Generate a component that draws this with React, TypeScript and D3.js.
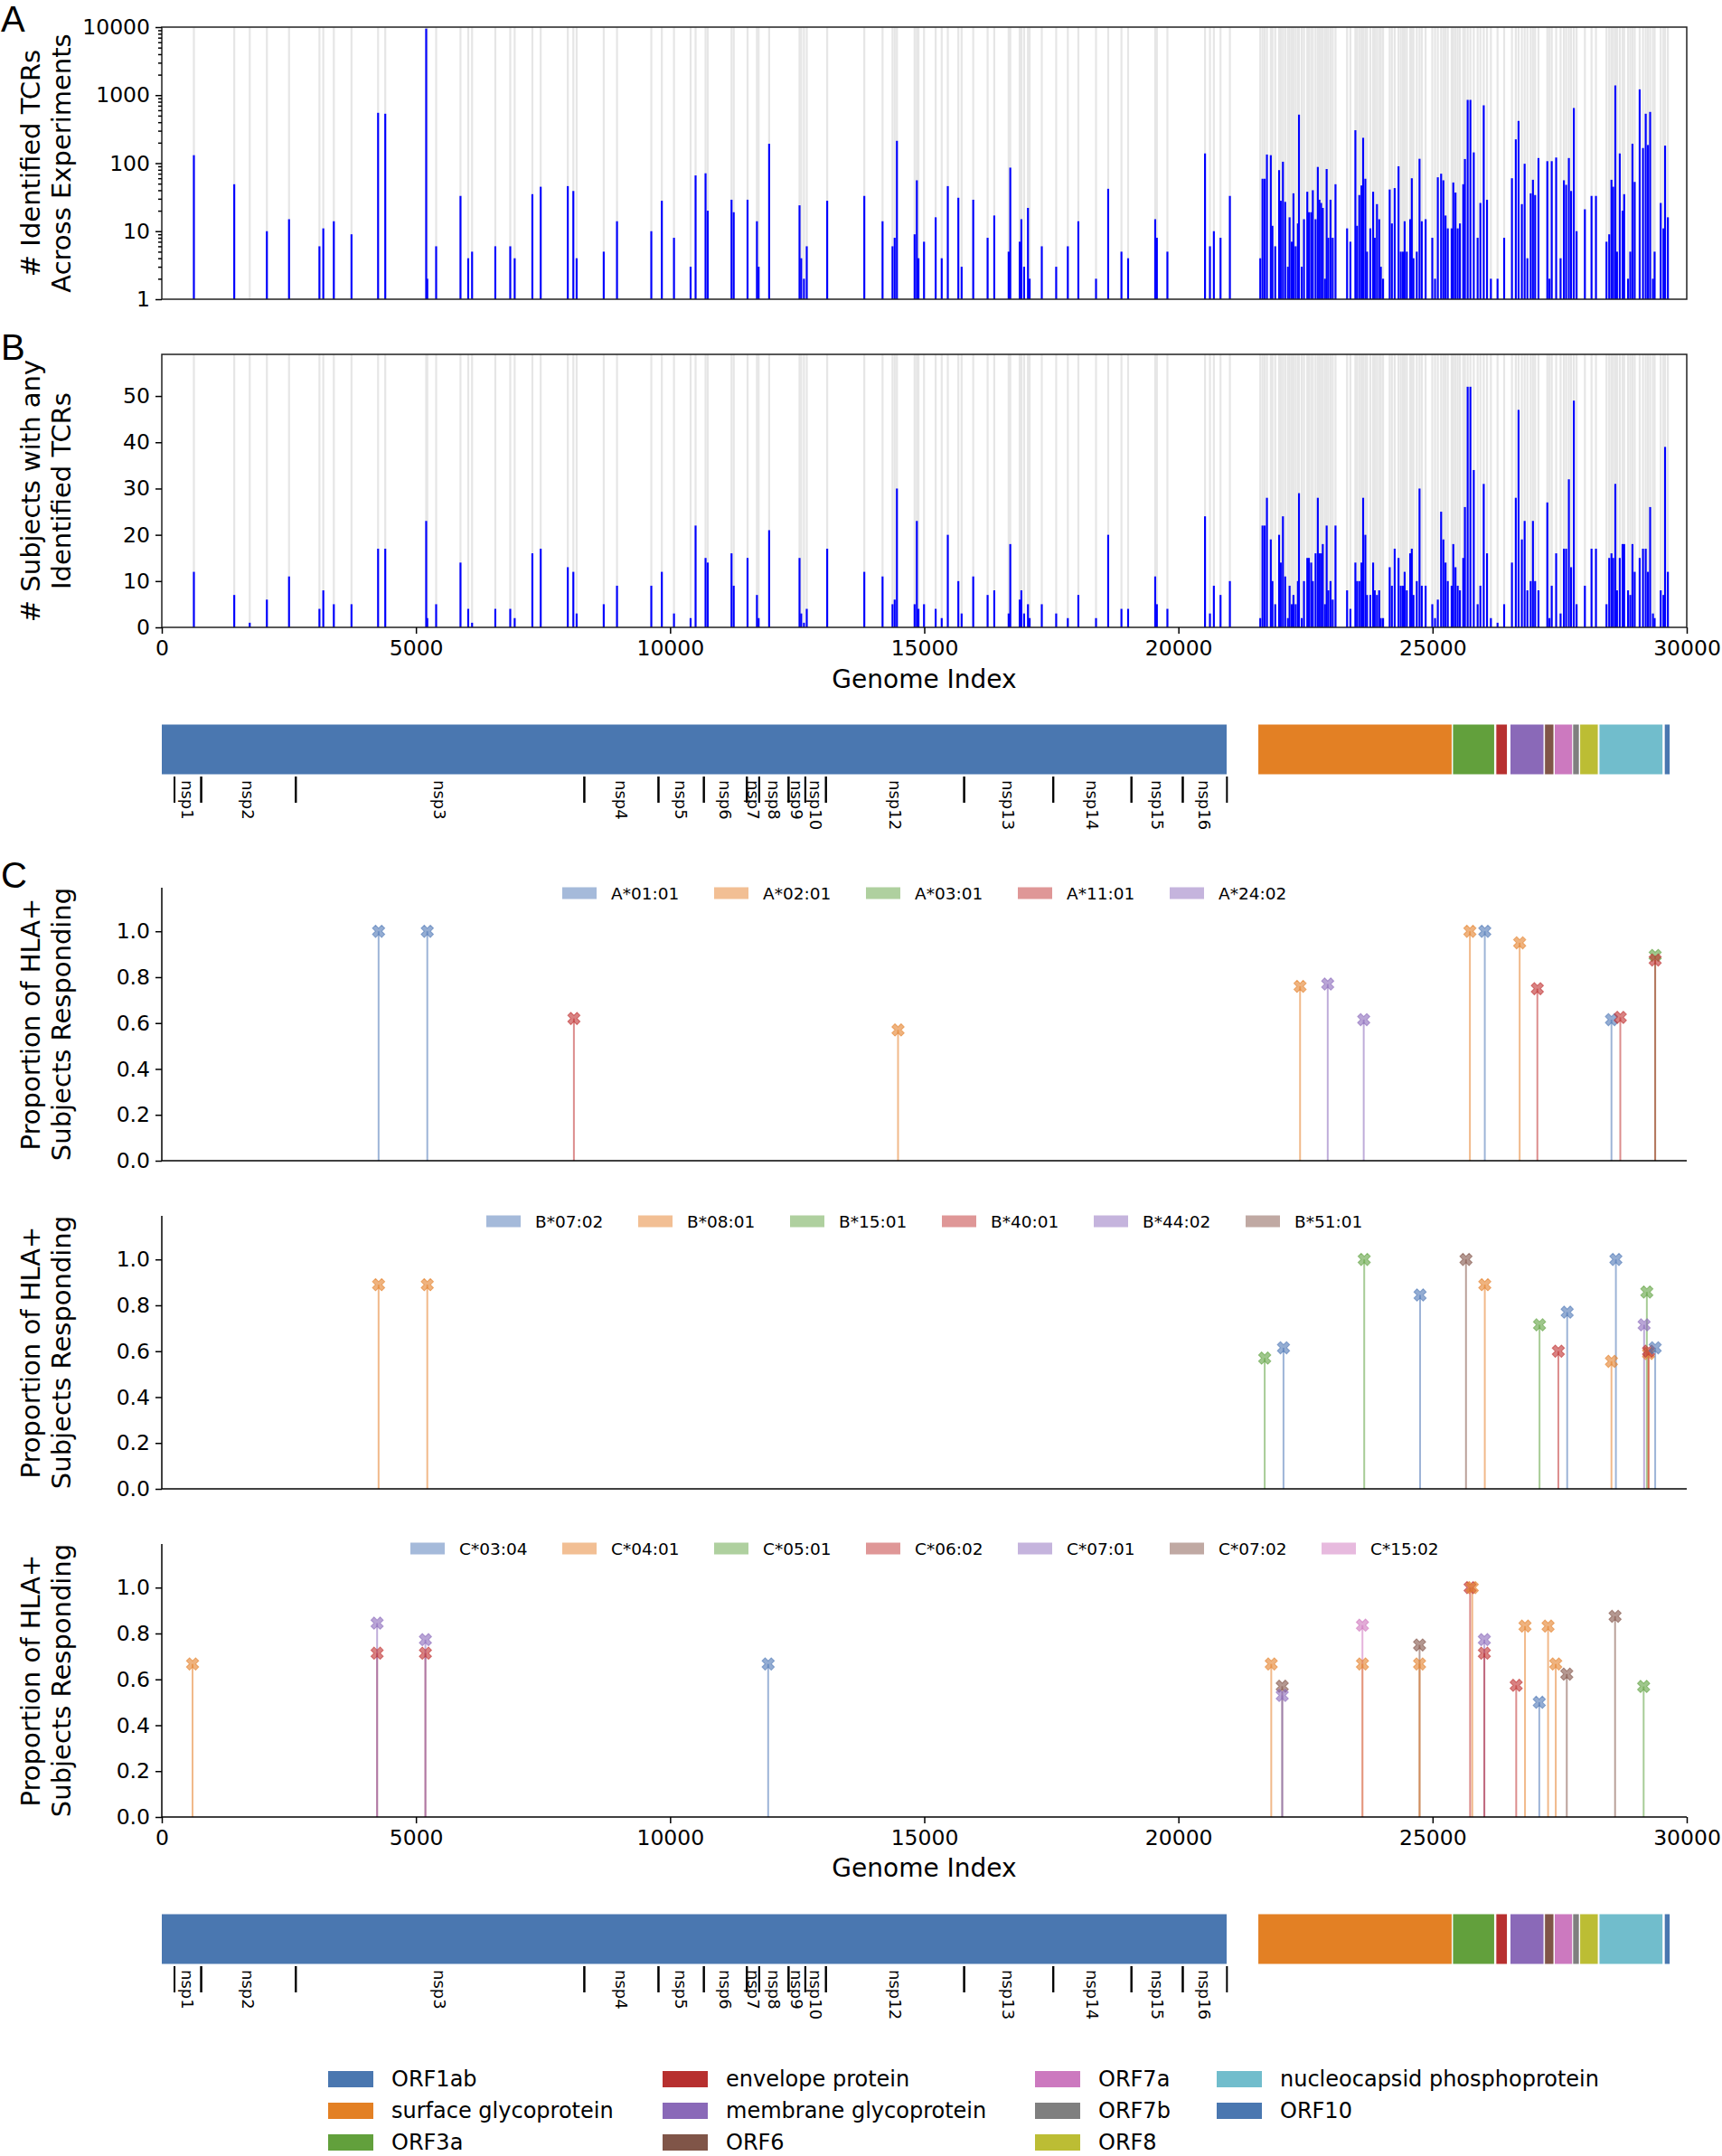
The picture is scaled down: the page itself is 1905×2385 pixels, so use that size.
import { useEffect, useRef } from 'react';
import * as d3 from 'd3';

// epitope start positions (genome index) with TCR counts (A) and subject counts (B)
const positions = [
  631, 1425, 1730, 2067, 2503, 3101, 3177, 3384, 3732, 4255, 4396, 5201, 5223, 5397, 5876, 6028, 6104, 6561, 6855, 6942,
  7290, 7454, 7987, 8096, 8161, 8694, 8955, 9630, 9837, 10076, 10403, 10501, 10697, 10740, 11208, 11251, 11523, 11708, 11741, 11948,
  12546, 12579, 12633, 12688, 13090, 13820, 14179, 14375, 14418, 14462, 14810, 14854, 14886, 14995, 15224, 15343, 15463, 15670, 15735, 15963,
  16246, 16377, 16660, 16692, 16877, 16910, 16964, 17040, 17073, 17312, 17595, 17824, 18031, 18379, 18618, 18879, 19010, 19543, 19576, 19783,
  20523, 20620, 20697, 20828, 21012,
  21610, 21654, 21697, 21741, 21817, 21849, 21904, 21980, 22013, 22056, 22100, 22154, 22187, 22230, 22263, 22307, 22350, 22372, 22426, 22470,
  22535, 22567, 22611, 22644, 22698, 22742, 22774, 22807, 22840, 22883, 22916, 22948, 22992, 23035, 23090,
  23318, 23383, 23481, 23514, 23558, 23601, 23634, 23677, 23710, 23775, 23830, 23862, 23906, 23949, 23982, 24026, 24156, 24199, 24254, 24330,
  24374, 24417, 24450, 24493, 24559, 24591, 24624, 24689, 24743, 24787, 24863, 24994, 25048, 25103, 25168, 25212, 25255, 25299, 25375, 25407,
  25451, 25494, 25538, 25603, 25636, 25690, 25744, 25810, 25886, 25940, 26006, 26071, 26147, 26278,
  26408, 26561, 26637, 26691, 26756, 26811, 26865, 26930, 26974, 27017, 27083, 27257, 27300, 27344, 27431, 27518, 27583, 27627, 27681, 27725,
  27779, 27833,
  27996, 28127, 28214, 28421, 28475, 28519, 28552, 28595, 28628, 28682, 28737, 28769, 28845, 28889, 28932, 28976, 29074, 29139, 29193, 29237,
  29280, 29335, 29368, 29488, 29542, 29574, 29629,
];

const tcrCounts = [
  131, 49, 1, 10, 15, 6, 11, 14, 9, 550, 533, 9500, 2, 6, 33, 4, 5, 6, 6, 4,
  35, 45, 46, 39, 4, 5, 14, 10, 28, 8, 3, 66, 71, 20, 29, 19, 29, 14, 3, 193,
  24, 4, 2, 6, 28, 33, 14, 6, 8, 213, 9, 56, 4, 7, 16, 4, 46, 31, 3, 29,
  8, 17, 5, 86, 7, 15, 3, 22, 2, 6, 3, 6, 14, 2, 42, 5, 4, 15, 8, 5,
  139, 6, 10, 8, 33,
  4, 59, 59, 134, 131, 12, 6, 79, 28, 105, 27, 3, 16, 7, 36, 6, 13, 517, 3, 15,
  38, 19, 19, 40, 15, 88, 29, 26, 22, 2, 82, 8, 29, 8, 49,
  11, 7, 305, 12, 34, 47, 236, 59, 5, 11, 38, 8, 25, 15, 3, 2, 41, 13, 43, 90,
  5, 5, 14, 5, 15, 60, 4, 5, 116, 14, 15, 8, 2, 62, 70, 56, 17, 11, 11, 52,
  37, 11, 13, 49, 115, 852, 852, 144, 8, 26, 709, 29, 2, 2,
  8, 60, 224, 418, 25, 98, 4, 36, 57, 34, 119, 107, 2, 107, 121, 4, 56, 48, 119, 39,
  647, 10,
  21, 33, 33, 7, 9, 57, 45, 1388, 5, 139, 20, 35, 2, 5, 193, 53, 1216, 167, 533, 185,
  567, 2, 5, 26, 11, 181, 16,
];

const subjectCounts = [
  12, 7, 1, 6, 11, 4, 8, 5, 5, 17, 17, 23, 2, 5, 14, 4, 1, 4, 4, 2,
  16, 17, 13, 12, 3, 5, 9, 9, 12, 3, 2, 22, 15, 14, 16, 9, 15, 7, 2, 21,
  15, 3, 1, 4, 17, 12, 11, 5, 6, 30, 5, 23, 4, 5, 4, 2, 20, 10, 3, 11,
  7, 8, 3, 18, 6, 8, 3, 5, 2, 5, 3, 2, 7, 2, 20, 4, 4, 11, 5, 4,
  24, 3, 9, 7, 10,
  2, 22, 22, 28, 19, 10, 5, 20, 14, 24, 11, 2, 9, 5, 7, 5, 10, 29, 2, 10,
  15, 15, 14, 10, 16, 28, 16, 16, 18, 5, 22, 8, 10, 6, 22,
  8, 4, 14, 10, 10, 14, 28, 20, 7, 7, 14, 8, 7, 8, 2, 2, 13, 9, 17, 15,
  9, 9, 12, 8, 16, 17, 7, 10, 30, 9, 9, 5, 2, 6, 25, 19, 14, 10, 9, 18,
  13, 9, 8, 15, 26, 52, 52, 34, 5, 9, 31, 16, 2, 1,
  5, 14, 28, 47, 19, 23, 8, 10, 23, 10, 8, 27, 2, 9, 16, 3, 17, 17, 32, 13,
  49, 5,
  9, 17, 17, 5, 15, 16, 15, 31, 8, 15, 18, 18, 8, 7, 18, 12, 15, 17, 17, 12,
  26, 3, 2, 8, 7, 39, 12,
];

// genes of the SARS-CoV-2 genome
const geneNames = ['ORF1ab', 'surface glycoprotein', 'ORF3a', 'envelope protein', 'membrane glycoprotein', 'ORF6',
  'ORF7a', 'ORF7b', 'ORF8', 'nucleocapsid phosphoprotein', 'ORF10'];
const geneStarts = [0, 21563, 25393, 26245, 26523, 27202, 27394, 27756, 27894, 28274, 29558];
const geneEnds = [21555, 25384, 26220, 26472, 27191, 27387, 27759, 27887, 28259, 29533, 29674];
const geneColors = ['#4a77b0', '#e38024', '#62a03c', '#b7302f', '#8a69b8', '#805548',
  '#cc79bf', '#7f7f7f', '#bcbd34', '#71bdcc', '#4a77b0'];

const nspNames = ['nsp1', 'nsp2', 'nsp3', 'nsp4', 'nsp5', 'nsp6', 'nsp7', 'nsp8', 'nsp9', 'nsp10',
  'nsp12', 'nsp13', 'nsp14', 'nsp15', 'nsp16'];
const nspStarts = [266, 806, 2720, 8555, 10055, 10973, 11843, 12092, 12686, 13025, 13442, 16237, 18040, 19621, 20659];
const nspEnds = [805, 2719, 8554, 10054, 10972, 11842, 12091, 12685, 13024, 13441, 16236, 18039, 19620, 20658, 21552];

// HLA panels
const hlaPalette = ['#4c76b6', '#e5802a', '#5fa23f', '#c02f2f', '#8b69bb', '#825447', '#cf75bd'];

const hlaAAlleles = ['A*01:01', 'A*02:01', 'A*03:01', 'A*11:01', 'A*24:02'];
const hlaAPos = [4265, 5223, 8107, 14484, 22393, 22937, 23645, 25734, 26027, 26713, 27061, 28519, 28693, 29379, 29379];
const hlaAIdx = [0, 0, 3, 1, 1, 4, 4, 1, 0, 1, 3, 0, 3, 2, 3];
const hlaAVal = [1.0, 1.0, 0.62, 0.57, 0.76, 0.77, 0.615, 1.0, 1.0, 0.95, 0.75, 0.615, 0.625, 0.895, 0.875];

const hlaBAlleles = ['B*07:02', 'B*08:01', 'B*15:01', 'B*40:01', 'B*44:02', 'B*51:01'];
const hlaBPos = [4265, 5223, 21697, 22067, 23655, 24754, 25657, 26027, 27104, 27474, 27648, 28519, 28606, 29215, 29161, 29248, 29248, 29379];
const hlaBIdx = [1, 1, 2, 0, 2, 0, 5, 1, 2, 3, 0, 1, 0, 2, 4, 1, 3, 0];
const hlaBVal = [0.89, 0.89, 0.57, 0.615, 1.0, 0.845, 1.0, 0.89, 0.715, 0.6, 0.77, 0.556, 1.0, 0.858, 0.715, 0.59, 0.6, 0.615];

const hlaCAlleles = ['C*03:04', 'C*04:01', 'C*05:01', 'C*06:02', 'C*07:01', 'C*07:02', 'C*15:02'];
const hlaCPos = [605, 4236, 4236, 5186, 5186, 11929, 21826, 22042, 22042, 23620, 23620, 24744, 24744, 25738, 25781,
  26018, 26018, 26645, 26818, 27099, 27272, 27423, 27640, 28590, 29152];
const hlaCIdx = [1, 3, 4, 3, 4, 0, 1, 5, 4, 6, 1, 5, 1, 3, 1, 4, 3, 3, 1, 0, 1, 1, 5, 5, 2];
const hlaCVal = [0.667, 0.714, 0.845, 0.714, 0.773, 0.667, 0.667, 0.57, 0.53, 0.836, 0.667, 0.75, 0.667, 1.0, 1.0,
  0.773, 0.714, 0.574, 0.832, 0.5, 0.832, 0.667, 0.623, 0.875, 0.569];

const FONT = 'DejaVu Sans';

export default function App() {
  const svgRef = useRef<SVGSVGElement>(null);

  useEffect(() => {
    if (!svgRef.current) return;
    const svg = d3.select(svgRef.current);
    svg.selectAll('*').remove();

    const x = d3.scaleLinear().domain([0, 30000]).range([179, 1866]);
    // ORF1ab is drawn on a slightly compressed scale in the gene track
    const xOrf = d3.scaleLinear().domain([0, 21555]).range([178.5, 1357.5]);
    const barW = x(38) - x(0);

    const styleAxis = (g: d3.Selection<SVGGElement, unknown, null, undefined>) => {
      g.select('.domain').remove();
      g.selectAll('.tick line').attr('stroke', '#000').attr('stroke-width', 1.5);
      g.selectAll('.tick text')
        .style('font-family', FONT)
        .style('font-size', '23.5px')
        .attr('fill', '#000');
    };

    const yLabel = (lines: string[], cy: number) => {
      const t = svg.append('text')
        .attr('transform', `translate(0,${cy}) rotate(-90)`)
        .attr('text-anchor', 'middle')
        .style('font-family', FONT)
        .style('font-size', '29px');
      lines.forEach((l, i) => {
        t.append('tspan').attr('x', 0).attr('y', i === 0 ? 44 : 78).text(l);
      });
    };

    const panelLetter = (s: string, y: number) => {
      svg.append('text').attr('x', 1).attr('y', y)
        .style('font-family', 'Liberation Sans')
        .style('font-size', '40px')
        .text(s);
    };

    const data = positions.map((p, i) => ({ p, tcr: tcrCounts[i], subj: subjectCounts[i] }));

    // ---------- Panel A ----------
    const yA = d3.scaleLog().domain([1, 10000]).range([331, 30]);
    const gA = svg.append('g');
    gA.selectAll('line.pep').data(data).join('line')
      .attr('x1', d => x(d.p)).attr('x2', d => x(d.p))
      .attr('y1', yA(1)).attr('y2', yA(10000))
      .attr('stroke', '#e6e6e6').attr('stroke-width', 2.2);
    gA.selectAll('rect.bar').data(data.filter(d => d.tcr > 1)).join('rect')
      .attr('x', d => x(d.p) - barW / 2)
      .attr('width', barW)
      .attr('y', d => yA(d.tcr))
      .attr('height', d => yA(1) - yA(d.tcr))
      .attr('fill', '#0000ff');
    gA.append('rect').attr('x', x(0)).attr('y', yA(10000))
      .attr('width', x(30000) - x(0)).attr('height', yA(1) - yA(10000))
      .attr('fill', 'none').attr('stroke', '#222').attr('stroke-width', 1.5);
    const minor: number[] = [];
    [1, 10, 100, 1000].forEach(b => d3.range(2, 10).forEach(k => minor.push(b * k)));
    gA.append('g').attr('transform', `translate(${x(0)},0)`)
      .call(d3.axisLeft(yA).tickValues(minor).tickFormat(() => '').tickSize(4))
      .call(styleAxis);
    gA.append('g').attr('transform', `translate(${x(0)},0)`)
      .call(d3.axisLeft(yA).tickValues([1, 10, 100, 1000, 10000]).tickFormat(d => String(d)).tickSize(7).tickPadding(6))
      .call(styleAxis);
    yLabel(['# Identified TCRs', 'Across Experiments'], (yA(1) + yA(10000)) / 2);
    panelLetter('A', 35);

    // ---------- Panel B ----------
    const yB = d3.scaleLinear().domain([0, 59]).range([694, 392]);
    const gB = svg.append('g');
    gB.selectAll('line.pep').data(data).join('line')
      .attr('x1', d => x(d.p)).attr('x2', d => x(d.p))
      .attr('y1', yB(0)).attr('y2', yB(59))
      .attr('stroke', '#e6e6e6').attr('stroke-width', 2.2);
    gB.selectAll('rect.bar').data(data).join('rect')
      .attr('x', d => x(d.p) - barW / 2)
      .attr('width', barW)
      .attr('y', d => yB(d.subj))
      .attr('height', d => yB(0) - yB(d.subj))
      .attr('fill', '#0000ff');
    gB.append('rect').attr('x', x(0)).attr('y', yB(59))
      .attr('width', x(30000) - x(0)).attr('height', yB(0) - yB(59))
      .attr('fill', 'none').attr('stroke', '#222').attr('stroke-width', 1.5);
    gB.append('g').attr('transform', `translate(${x(0)},0)`)
      .call(d3.axisLeft(yB).tickValues([0, 10, 20, 30, 40, 50]).tickSize(7).tickPadding(6))
      .call(styleAxis);
    gB.append('g').attr('transform', `translate(0,${yB(0)})`)
      .call(d3.axisBottom(x).tickValues(d3.range(0, 30001, 5000)).tickFormat(d3.format('d')).tickSize(7).tickPadding(7))
      .call(styleAxis);
    svg.append('text').attr('x', (x(0) + x(30000)) / 2).attr('y', 761)
      .attr('text-anchor', 'middle').style('font-family', FONT).style('font-size', '28px')
      .text('Genome Index');
    yLabel(['# Subjects with any', 'Identified TCRs'], (yB(0) + yB(59)) / 2);
    panelLetter('B', 398);

    // ---------- Genome tracks ----------
    const genes = geneNames.map((name, i) => ({ name, s: geneStarts[i], e: geneEnds[i], c: geneColors[i], i }));
    const nsps = nspNames.map((name, i) => ({ name, s: nspStarts[i], e: nspEnds[i] }));
    const drawTrack = (top: number) => {
      const h = 56;
      const g = svg.append('g');
      g.selectAll('rect').data(genes).join('rect')
        .attr('x', d => (d.i === 0 ? xOrf(d.s) : x(d.s)))
        .attr('width', d => (d.i === 0 ? xOrf(d.e) - xOrf(d.s) : x(d.e) - x(d.s)))
        .attr('y', top).attr('height', h)
        .attr('fill', d => d.c)
        .attr('stroke', '#fff').attr('stroke-width', 1);
      const edges = nsps.flatMap(d => [d.s, d.e]);
      g.selectAll('line').data(edges).join('line')
        .attr('x1', d => xOrf(d)).attr('x2', d => xOrf(d))
        .attr('y1', top + h + 2).attr('y2', top + h + 31)
        .attr('stroke', '#000').attr('stroke-width', 2);
      g.selectAll('text').data(nsps).join('text')
        .attr('transform', d => `translate(${(xOrf(d.s) + xOrf(d.e)) / 2},${top + h + 6}) rotate(90)`)
        .attr('dominant-baseline', 'central')
        .style('font-family', FONT).style('font-size', '18px')
        .text(d => d.name);
    };
    drawTrack(801);
    drawTrack(2117);

    // ---------- Panel C ----------
    const drawHla = (alleles: string[], pos: number[], idx: number[], vals: number[],
      bottom: number, legendY: number, showX: boolean) => {
      const y = d3.scaleLinear().domain([0, 1.19]).range([bottom, bottom - 302]);
      const g = svg.append('g');
      const pts = pos.map((p, i) => ({ p, k: idx[i], v: vals[i] }));
      g.selectAll('line.stem').data(pts).join('line')
        .attr('x1', d => x(d.p)).attr('x2', d => x(d.p))
        .attr('y1', y(0)).attr('y2', d => y(d.v))
        .attr('stroke', d => hlaPalette[d.k]).attr('stroke-opacity', 0.55).attr('stroke-width', 2);
      const sym = d3.symbol().type(d3.symbolCross).size(115);
      g.selectAll('path.mark').data(pts).join('path')
        .attr('d', sym())
        .attr('transform', d => `translate(${x(d.p)},${y(d.v)}) rotate(45)`)
        .attr('fill', d => hlaPalette[d.k]).attr('fill-opacity', 0.6)
        .attr('stroke', d => hlaPalette[d.k]).attr('stroke-opacity', 0.6).attr('stroke-width', 1);
      g.append('line').attr('x1', x(0)).attr('x2', x(0)).attr('y1', y(0)).attr('y2', y(1.19))
        .attr('stroke', '#000').attr('stroke-width', 1.5);
      g.append('line').attr('x1', x(0)).attr('x2', x(30000)).attr('y1', y(0)).attr('y2', y(0))
        .attr('stroke', '#000').attr('stroke-width', 1.5);
      g.append('g').attr('transform', `translate(${x(0)},0)`)
        .call(d3.axisLeft(y).tickValues([0, 0.2, 0.4, 0.6, 0.8, 1.0]).tickFormat(d3.format('.1f')).tickSize(7).tickPadding(6))
        .call(styleAxis);
      if (showX) {
        g.append('g').attr('transform', `translate(0,${y(0)})`)
          .call(d3.axisBottom(x).tickValues(d3.range(0, 30001, 5000)).tickFormat(d3.format('d')).tickSize(7).tickPadding(7))
          .call(styleAxis);
      }
      // legend
      const step = 168;
      const total = (alleles.length - 1) * step + 129;
      const x0 = (x(0) + x(30000)) / 2 - total / 2;
      const lg = g.selectAll('g.leg').data(alleles).join('g')
        .attr('transform', (d, i) => `translate(${x0 + i * step},${legendY})`);
      lg.append('rect').attr('x', 0).attr('y', -6.5).attr('width', 38).attr('height', 13)
        .attr('fill', (d, i) => hlaPalette[i]).attr('fill-opacity', 0.5);
      lg.append('text').attr('x', 54).attr('y', 0).attr('dominant-baseline', 'central')
        .style('font-family', FONT).style('font-size', '18.5px')
        .text(d => d);
      yLabel(['Proportion of HLA+', 'Subjects Responding'], bottom - 151);
    };
    drawHla(hlaAAlleles, hlaAPos, hlaAIdx, hlaAVal, 1284, 988, false);
    drawHla(hlaBAlleles, hlaBPos, hlaBIdx, hlaBVal, 1647, 1351, false);
    drawHla(hlaCAlleles, hlaCPos, hlaCIdx, hlaCVal, 2010, 1713, true);
    svg.append('text').attr('x', (x(0) + x(30000)) / 2).attr('y', 2076)
      .attr('text-anchor', 'middle').style('font-family', FONT).style('font-size', '28px')
      .text('Genome Index');
    panelLetter('C', 982);

    // ---------- gene legend ----------
    const colX = [363, 733, 1145, 1346];
    const lg = svg.append('g').selectAll('g').data(genes).join('g')
      .attr('transform', d => `translate(${colX[Math.floor(d.i / 3)]},${2300 + (d.i % 3) * 35})`);
    lg.append('rect').attr('x', 0).attr('y', -9).attr('width', 50).attr('height', 18)
      .attr('fill', d => d.c);
    lg.append('text').attr('x', 70).attr('y', 0).attr('dominant-baseline', 'central')
      .style('font-family', FONT).style('font-size', '24px')
      .text(d => d.name);
  }, []);

  return (
    <svg ref={svgRef} width={1905} height={2385}
      style={{ position: 'absolute', left: 0, top: 0, background: '#fff' }} />
  );
}
